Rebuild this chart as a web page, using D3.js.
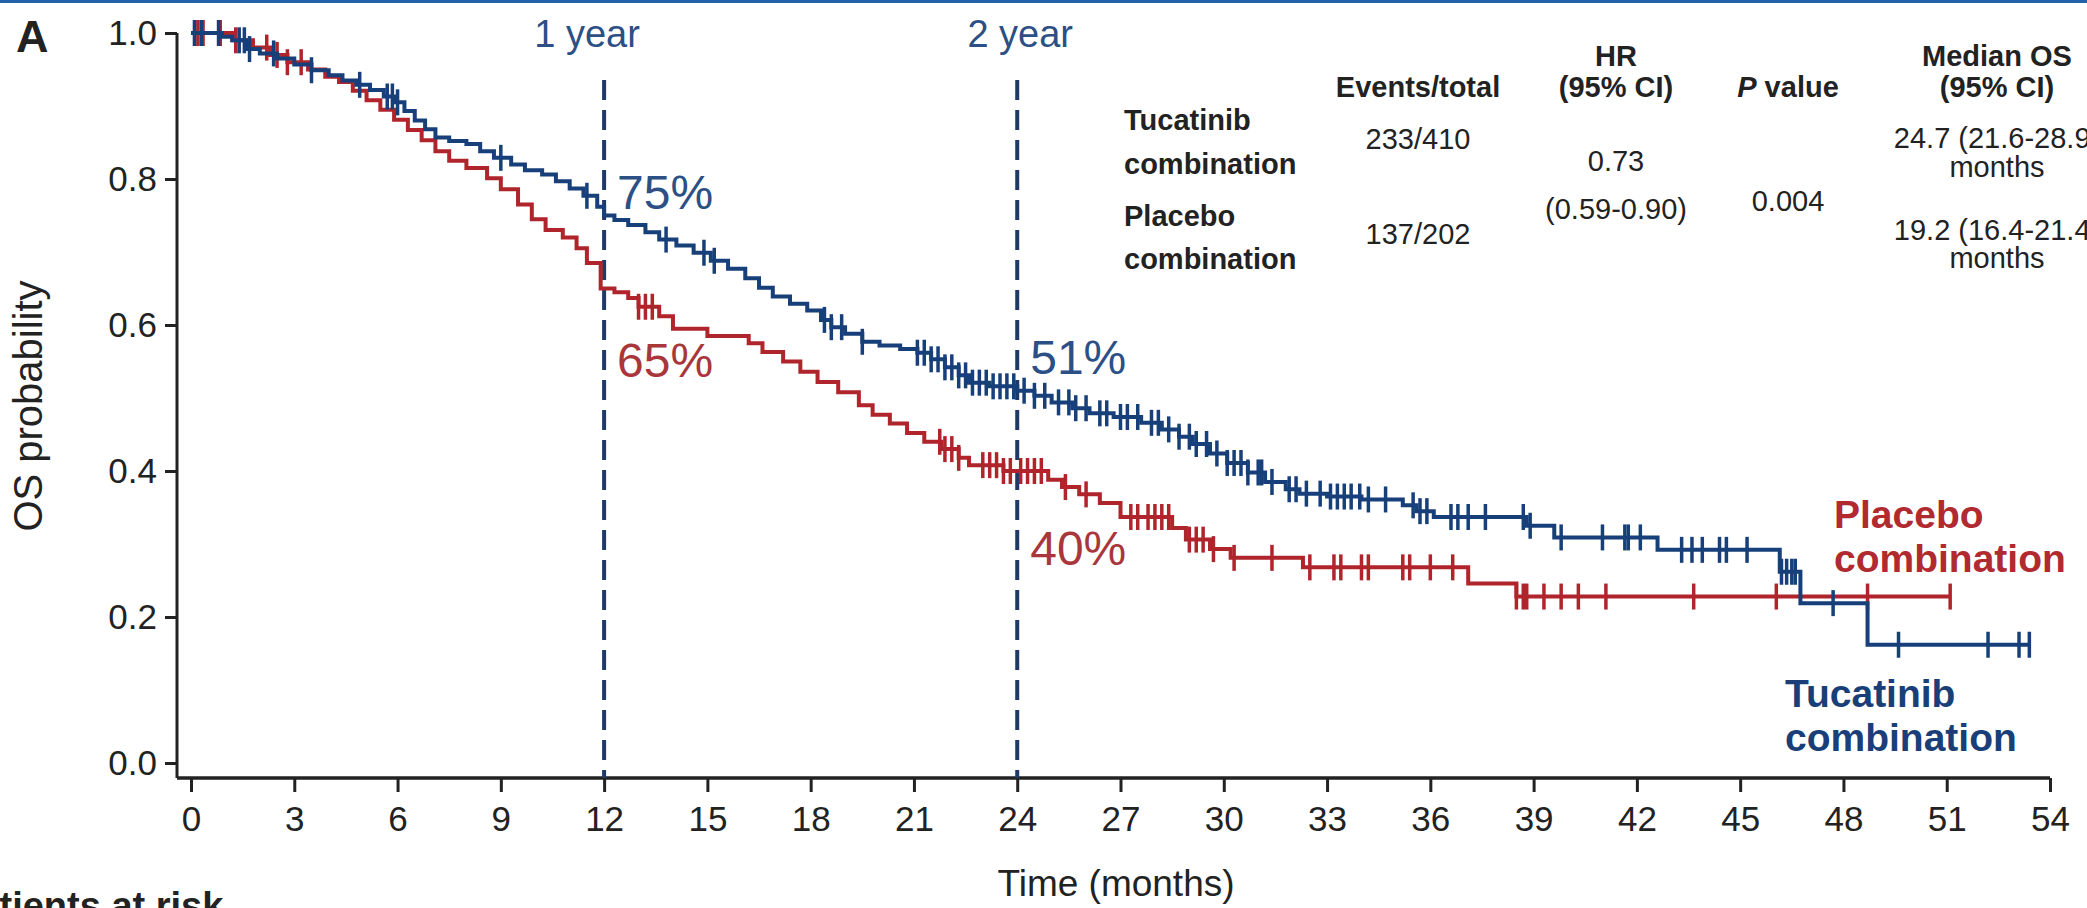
<!DOCTYPE html>
<html>
<head>
<meta charset="utf-8">
<script src="https://cdn.jsdelivr.net/npm/d3@7"></script>
<style>
  html, body { margin: 0; padding: 0; background: #fff; }
  svg { display: block; font-family: "Liberation Sans", Arial, Helvetica, sans-serif; }
</style>
</head>
<body>
<svg id="chart" width="2087" height="908"></svg>
<script>
// Kaplan–Meier overall survival: [month, survival probability after the step]
const tucatinibSteps = [
  [0, 1.0], [0.9, 0.995], [1.2, 0.99], [1.6, 0.978], [2.0, 0.972], [2.5, 0.965],
  [3.0, 0.957], [3.5, 0.949], [4.0, 0.942], [4.4, 0.935], [4.8, 0.929], [5.2, 0.922],
  [5.6, 0.913], [5.9, 0.905], [6.2, 0.893], [6.5, 0.88], [6.8, 0.868], [7.1, 0.857],
  [7.5, 0.852], [8.0, 0.848], [8.4, 0.838], [8.8, 0.829], [9.3, 0.82], [9.7, 0.812],
  [10.2, 0.806], [10.6, 0.797], [11.0, 0.787], [11.4, 0.777], [11.8, 0.762], [12.0, 0.75],
  [12.3, 0.744], [12.7, 0.737], [13.2, 0.727], [13.6, 0.717], [14.1, 0.709], [14.6, 0.699],
  [15.1, 0.688], [15.6, 0.677], [16.1, 0.664], [16.5, 0.651], [16.9, 0.639], [17.4, 0.629],
  [17.9, 0.62], [18.3, 0.607], [18.6, 0.597], [19.0, 0.588], [19.5, 0.577], [20.0, 0.572],
  [20.6, 0.567], [21.1, 0.562], [21.5, 0.553], [21.9, 0.542], [22.3, 0.531], [22.6, 0.521],
  [23.2, 0.516], [24.0, 0.51], [24.5, 0.503], [25.0, 0.494], [25.6, 0.486], [26.1, 0.479],
  [26.8, 0.474], [27.6, 0.466], [28.2, 0.457], [28.7, 0.447], [29.1, 0.437], [29.6, 0.424],
  [30.1, 0.411], [30.7, 0.398], [31.2, 0.385], [31.8, 0.375], [32.2, 0.369], [33.0, 0.365],
  [34.0, 0.361], [35.2, 0.353], [35.6, 0.345], [36.1, 0.337], [38.8, 0.325], [39.6, 0.309],
  [42.6, 0.292], [46.15, 0.262], [46.75, 0.219], [48.7, 0.162], [53.4, 0.162]
];

const placeboSteps = [
  [0, 1.0], [1.2, 0.99], [1.8, 0.98], [2.3, 0.97], [2.8, 0.96], [3.4, 0.95],
  [3.9, 0.94], [4.3, 0.933], [4.7, 0.921], [5.1, 0.908], [5.5, 0.895], [5.9, 0.881],
  [6.3, 0.867], [6.7, 0.853], [7.1, 0.838], [7.5, 0.825], [8.0, 0.815], [8.6, 0.801],
  [9.0, 0.786], [9.5, 0.765], [9.9, 0.745], [10.3, 0.73], [10.8, 0.72], [11.2, 0.705],
  [11.5, 0.685], [11.9, 0.65], [12.3, 0.645], [12.7, 0.637], [13.0, 0.625], [13.6, 0.612],
  [14.0, 0.595], [15.0, 0.585], [16.2, 0.575], [16.6, 0.563], [17.2, 0.55], [17.7, 0.536],
  [18.2, 0.522], [18.8, 0.508], [19.4, 0.49], [19.8, 0.477], [20.3, 0.465], [20.8, 0.452],
  [21.3, 0.44], [21.8, 0.43], [22.3, 0.418], [22.6, 0.408], [23.6, 0.40], [24.9, 0.388],
  [25.3, 0.378], [25.8, 0.368], [26.4, 0.356], [27.0, 0.337], [28.5, 0.322], [28.9, 0.306],
  [29.6, 0.293], [30.2, 0.281], [32.3, 0.268], [37.1, 0.246], [38.5, 0.228], [51.1, 0.228]
];

// Censoring times (months)
const tucatinibCensored = [
  0.1, 0.3, 0.8, 1.4, 1.55, 1.7, 2.4, 3.5, 4.9, 5.7, 5.85, 6.0, 9.0, 11.5, 13.8, 14.9, 15.2,
  18.4, 18.6, 18.9, 19.5, 21.1, 21.3, 21.5, 21.7, 21.9, 22.1, 22.3, 22.5, 22.7, 22.9, 23.1,
  23.3, 23.5, 23.7, 23.9, 24.2, 24.5, 24.8, 25.2, 25.5, 25.7, 26.0, 26.4, 26.6, 27.0, 27.2,
  27.5, 27.9, 28.1, 28.4, 28.7, 29.0, 29.2, 29.5, 29.8, 30.1, 30.3, 30.5, 30.7, 31.0, 31.1,
  31.4, 31.9, 32.1, 32.4, 32.8, 33.1, 33.3, 33.5, 33.7, 33.95, 34.2, 34.7, 35.5, 35.7, 35.9,
  36.6, 36.8, 37.1, 37.6, 38.7, 38.9, 39.8, 41.0, 41.65, 41.75, 42.1, 43.3, 43.6, 43.9, 44.4,
  44.6, 45.2, 46.2, 46.35, 46.5, 46.6, 47.7, 49.6, 52.2, 53.1, 53.4
];
const placeboCensored = [
  0.2, 0.35, 0.85, 1.3, 2.2, 2.5, 2.8, 3.2, 13.0, 13.2, 13.4, 21.75, 21.9, 22.1, 22.3, 23.0,
  23.2, 23.4, 23.6, 23.8, 24.1, 24.3, 24.5, 24.7, 25.4, 26.0, 27.3, 27.5, 27.8, 28.0, 28.2,
  28.4, 29.0, 29.2, 29.4, 29.7, 30.3, 31.4, 32.5, 33.2, 33.4, 34.0, 34.2, 35.2, 35.4, 36.0,
  36.65, 38.5, 38.7, 38.8, 39.3, 39.8, 40.3, 41.1, 43.65, 46.05, 48.7, 51.1
];

const xTicks = d3.range(0, 55, 3);
const yTicks = [0, 0.2, 0.4, 0.6, 0.8, 1.0];

// Landmark survival rates
const landmarkMonths = [12, 24];
const landmarkNames = ["1 year", "2 year"];
const tucatinibLandmarks = [0.75, 0.51];
const placeboLandmarks = [0.65, 0.40];

// Summary table
const tableHeaderTop = ["", "", "HR", "", "Median OS"];
const tableHeaderBottom = ["", "Events/total", "(95% CI)", "value", "(95% CI)"];
const tableArms = [["Tucatinib", "combination"], ["Placebo", "combination"]];
const tableEvents = ["233/410", "137/202"];
const tableHR = ["0.73", "(0.59-0.90)"];
const tableP = "0.004";
const tableMedian = [["24.7 (21.6-28.9)", "months"], ["19.2 (16.4-21.4)", "months"]];

const BLUE = "#173f7a", RED = "#b0242c";
const BLUE_TXT = "#2c4f85", RED_TXT = "#a8363b";

const svg = d3.select("#chart");

svg.append("rect").attr("x", 0).attr("y", 0).attr("width", 2087).attr("height", 3).attr("fill", "#2463a8");

const x = d3.scaleLinear().domain([0, 54]).range([191, 2050]);
const y = d3.scaleLinear().domain([0, 1]).range([763, 33]);
const axisX0 = 177, axisY0 = 778;

// y axis
const gy = svg.append("g").attr("transform", `translate(${axisX0},0)`)
  .call(d3.axisLeft(y).tickValues(yTicks).tickFormat(d3.format(".1f")).tickSize(12).tickPadding(8));
gy.select(".domain").remove();
gy.selectAll(".tick line").attr("stroke", "#222").attr("stroke-width", 3);
gy.selectAll(".tick text").attr("font-size", 35).attr("fill", "#222").attr("font-family", null);
svg.append("line").attr("x1", axisX0).attr("x2", axisX0).attr("y1", y(1)).attr("y2", axisY0)
  .attr("stroke", "#222").attr("stroke-width", 3);

// x axis
const gx = svg.append("g").attr("transform", `translate(0,${axisY0})`)
  .call(d3.axisBottom(x).tickValues(xTicks).tickSize(14).tickPadding(14));
gx.select(".domain").remove();
gx.selectAll(".tick line").attr("stroke", "#222").attr("stroke-width", 3);
gx.selectAll(".tick text").attr("font-size", 35).attr("fill", "#222").attr("font-family", null);
svg.append("line").attr("x1", axisX0).attr("x2", x(54)).attr("y1", axisY0).attr("y2", axisY0)
  .attr("stroke", "#222").attr("stroke-width", 3.5);

// axis titles
svg.append("text").attr("transform", `translate(42,${(y(0) + y(1)) / 2 + 8}) rotate(-90)`)
  .attr("text-anchor", "middle").attr("font-size", 40).attr("fill", "#222").text("OS probability");
svg.append("text").attr("x", 1116).attr("y", 896).attr("text-anchor", "middle")
  .attr("font-size", 37).attr("fill", "#222").text("Time (months)");
svg.append("text").attr("x", -47).attr("y", 919).attr("font-size", 38).attr("font-weight", "bold")
  .attr("fill", "#222").text("Patients at risk");
svg.append("text").attr("x", 16).attr("y", 52).attr("font-size", 45).attr("font-weight", "bold")
  .attr("fill", "#222").text("A");

// landmark dashed lines
const landmarkLabelShift = [-17, 3];
landmarkMonths.forEach((m, i) => {
  svg.append("line").attr("x1", x(m)).attr("x2", x(m)).attr("y1", 80).attr("y2", axisY0)
    .attr("stroke", "#1f3a66").attr("stroke-width", 4).attr("stroke-dasharray", "20,10");
  svg.append("text").attr("x", x(m) + landmarkLabelShift[i]).attr("y", 47).attr("text-anchor", "middle")
    .attr("font-size", 38).attr("fill", BLUE_TXT).text(landmarkNames[i]);
});

// survival curves
const stepLine = d3.line().x(d => x(d[0])).y(d => y(d[1])).curve(d3.curveStepAfter);
function survAt(steps, t) {
  let s = steps[0][1];
  for (const p of steps) { if (p[0] <= t) s = p[1]; else break; }
  return s;
}
function drawArm(steps, censored, color) {
  svg.append("path").datum(steps).attr("d", stepLine).attr("fill", "none")
    .attr("stroke", color).attr("stroke-width", 4);
  svg.append("g").selectAll("line").data(censored).join("line")
    .attr("x1", d => x(d)).attr("x2", d => x(d))
    .attr("y1", d => y(survAt(steps, d)) - 13).attr("y2", d => y(survAt(steps, d)) + 13)
    .attr("stroke", color).attr("stroke-width", 3.5);
}
drawArm(placeboSteps, placeboCensored, RED);
drawArm(tucatinibSteps, tucatinibCensored, BLUE);

// landmark percentages
const pct = d3.format(".0%");
landmarkMonths.forEach((m, i) => {
  const isFirst = i === 0;
  svg.append("text").attr("x", x(m) + 13).attr("y", y(tucatinibLandmarks[i]) + (isFirst ? -7 : -17))
    .attr("font-size", 48).attr("fill", BLUE_TXT).text(pct(tucatinibLandmarks[i]));
  svg.append("text").attr("x", x(m) + 13).attr("y", y(placeboLandmarks[i]) + (isFirst ? 88 : 94))
    .attr("font-size", 48).attr("fill", RED_TXT).text(pct(placeboLandmarks[i]));
});

// arm labels at curve ends
const armLabel = (lines, xPos, yPos, color) => {
  const t = svg.append("text").attr("x", xPos).attr("y", yPos).attr("font-size", 39)
    .attr("font-weight", "bold").attr("fill", color);
  lines.forEach((s, k) => t.append("tspan").attr("x", xPos).attr("dy", k ? 44 : 0).text(s));
};
armLabel(["Placebo", "combination"], 1834, 528, "#b02a30");
armLabel(["Tucatinib", "combination"], 1785, 707, "#1a3f78");

// summary table
const tfs = 29;
const colX = [1124, 1418, 1616, 1788, 1997];
const T = (txt, xPos, yPos, opts = {}) => svg.append("text").attr("x", xPos).attr("y", yPos)
  .attr("font-size", tfs).attr("fill", "#222")
  .attr("text-anchor", opts.anchor || "middle")
  .attr("font-weight", opts.bold ? "bold" : null)
  .attr("font-style", opts.italic ? "italic" : null)
  .text(txt);

tableHeaderTop.forEach((h, i) => { if (h) T(h, colX[i], 66, { bold: true }); });
tableHeaderBottom.forEach((h, i) => {
  if (!h) return;
  if (i === 3) {
    const t = svg.append("text").attr("x", colX[i]).attr("y", 97).attr("font-size", tfs)
      .attr("fill", "#222").attr("text-anchor", "middle").attr("font-weight", "bold");
    t.append("tspan").attr("font-style", "italic").text("P");
    t.append("tspan").text(" " + h);
  } else {
    T(h, colX[i], 97, { bold: true });
  }
});
const armRowY = [[130, 174], [226, 269]];
tableArms.forEach((lines, r) => {
  lines.forEach((s, k) => T(s, colX[0], armRowY[r][k], { bold: true, anchor: "start" }));
});
T(tableEvents[0], colX[1], 149);
T(tableEvents[1], colX[1], 244);
T(tableHR[0], colX[2], 171);
T(tableHR[1], colX[2], 219);
T(tableP, colX[3], 211);
T(tableMedian[0][0], colX[4], 148);
T(tableMedian[0][1], colX[4], 177);
T(tableMedian[1][0], colX[4], 240);
T(tableMedian[1][1], colX[4], 268);
</script>
</body>
</html>
